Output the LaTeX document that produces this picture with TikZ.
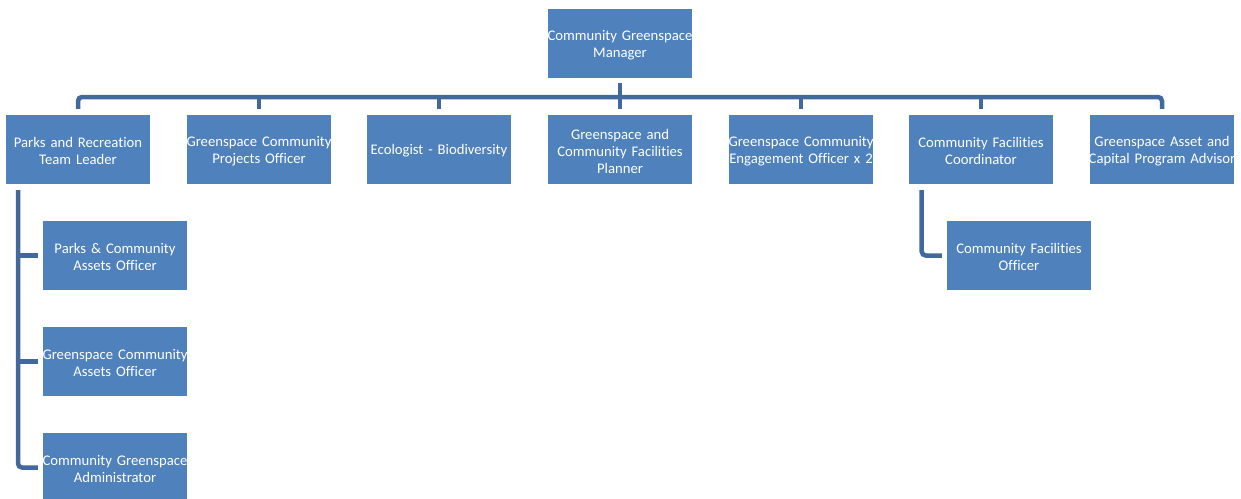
\documentclass[tikz,border=0pt]{standalone}
\usepackage{fontspec}
\setmainfont[Ligatures=NoCommon]{Carlito}
\usetikzlibrary{calc}
\definecolor{boxblue}{HTML}{4F81BD}
\definecolor{linkblue}{HTML}{41699D}
% a line of box text that may run past the box edges, centred on it
\newcommand{\boxline}[1]{\noindent\hbox to 144pt{\hss #1\hss}}
\tikzset{
  role/.style={rectangle, fill=boxblue, minimum width=144pt, minimum height=69pt,
    inner sep=0pt, text width=144pt, align=center, text=white,
    font=\fontsize{14.7pt}{17pt}\selectfont,
    execute at end node={\vspace*{-3pt}}},
  conn/.style={draw=linkblue, line width=4.5pt},
}
\begin{document}
\begin{tikzpicture}[x=1pt, y=-1pt]
\useasboundingbox (0,0) rectangle (1241,498);

% top level
\node[role] (m) at (620,43.5) {\boxline{Community Greenspace}\\Manager};

% second level
\node[role] (p1) at (78,149.5)   {\boxline{Parks and Recreation}\\Team Leader};
\node[role] (p2) at (259,149.5)  {\boxline{Greenspace Community}\\Projects Officer};
\node[role] (p3) at (439,149.5)  {\boxline{Ecologist - Biodiversity}};
\node[role] (p4) at (620,149.5)  {\boxline{Greenspace and}\\\boxline{Community Facilities}\\Planner};
\node[role] (p5) at (801,149.5)  {\boxline{Greenspace Community}\\\boxline{Engagement Officer x 2}};
\node[role] (p6) at (981,149.5)  {\boxline{Community Facilities}\\Coordinator};
\node[role] (p7) at (1162,149.5) {\boxline{Greenspace Asset and}\\\boxline{Capital Program Advisor}};

% third level
\node[role] (c1) at (115,255.5) {\boxline{Parks \& Community}\\Assets Officer};
\node[role] (c2) at (115,361.5) {\boxline{Greenspace Community}\\Assets Officer};
\node[role] (c3) at (115,467.5) {\boxline{Community Greenspace}\\Administrator};
\node[role] (c4) at (1019,255.5) {\boxline{Community Facilities}\\Officer};

% connector levels
\coordinate (bus) at (0,97);
\coordinate (spineL) at (18,0);
\coordinate (spineR) at (921.7,0);

% manager to the bus
\draw[conn] ([yshift=-5pt]m.south) -- ([yshift=6pt]p4.north);
\draw[conn, rounded corners=4pt]
  ([yshift=6pt]p1.north) -- (p1.north |- bus) -- (p7.north |- bus) -- ([yshift=6pt]p7.north);
\foreach \n in {p2,p3,p5,p6}
  \draw[conn] (\n.north |- bus) -- ([yshift=6pt]\n.north);

% team leader's reports
\draw[conn, rounded corners=4pt]
  ([yshift=-6pt]p1.south -| spineL) -- (c3.west -| spineL) -- ([xshift=-5pt]c3.west);
\foreach \n in {c1,c2}
  \draw[conn] (\n.west -| spineL) -- ([xshift=-5pt]\n.west);

% coordinator's report
\draw[conn, rounded corners=4pt]
  ([yshift=-6pt]p6.south -| spineR) -- (c4.west -| spineR) -- ([xshift=-5pt]c4.west);
\end{tikzpicture}
\end{document}
